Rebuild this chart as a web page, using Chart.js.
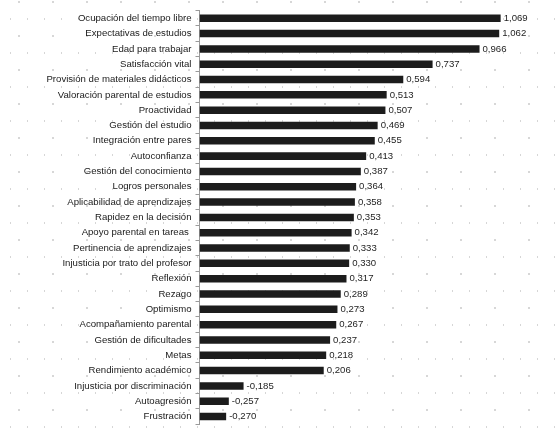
<!DOCTYPE html>
<html lang="es">

<head>
    <meta charset="UTF-8" />
    <title>Coeficientes</title>
    <style>
        body {
            margin: 0;
            background-color: #fff;
            background-image:
                radial-gradient(circle, #d6d6d6 0.7px, transparent 1.1px),
                radial-gradient(circle, #d6d6d6 0.7px, transparent 1.1px);
            background-size: 17px 34px, 34px 34px;
            background-position: 2px 2px, 2px 19px;
        }

        canvas {
            display: block;
        }
    </style>
    <script src="https://cdn.jsdelivr.net/npm/chart.js"></script>
</head>

<body>
    <canvas id="grafico" width="560" height="437"></canvas>

    <script>
        const categorias = [
            "Ocupación del tiempo libre",
            "Expectativas de estudios",
            "Edad para trabajar",
            "Satisfacción vital",
            "Provisión de materiales didácticos",
            "Valoración parental de estudios",
            "Proactividad",
            "Gestión del estudio",
            "Integración entre pares",
            "Autoconfianza",
            "Gestión del conocimiento",
            "Logros personales",
            "Aplicabilidad de aprendizajes",
            "Rapidez en la decisión",
            "Apoyo parental en tareas ",
            "Pertinencia de aprendizajes",
            "Injusticia por trato del profesor",
            "Reflexión",
            "Rezago",
            "Optimismo",
            "Acompañamiento parental",
            "Gestión de dificultades",
            "Metas",
            "Rendimiento académico",
            "Injusticia por discriminación",
            "Autoagresión",
            "Frustración"
        ];

        const valores = [
            1.069, 1.062, 0.966, 0.737, 0.594, 0.513, 0.507, 0.469, 0.455,
            0.413, 0.387, 0.364, 0.358, 0.353, 0.342, 0.333, 0.330, 0.317,
            0.289, 0.273, 0.267, 0.237, 0.218, 0.206, -0.185, -0.257, -0.270
        ];

        const ejeMin = -0.4;
        const ejeMax = 1.3;

        const fmt = v => v.toFixed(3).replace(".", ",");

        // etiquetas de valor al final de cada barra
        const etiquetas = {
            id: "etiquetas",
            afterDatasetsDraw(chart) {
                const ctx = chart.ctx;
                const meta = chart.getDatasetMeta(0);
                ctx.save();
                ctx.font = "9.6px 'Liberation Sans', Arial, sans-serif";
                ctx.fillStyle = "#1e1e1e";
                ctx.textAlign = "left";
                ctx.textBaseline = "middle";
                meta.data.forEach((bar, i) => {
                    ctx.fillText(fmt(valores[i]), bar.x + 3, bar.y);
                });
                ctx.restore();
            }
        };

        new Chart(document.getElementById("grafico"), {
            type: "bar",
            data: {
                labels: categorias,
                datasets: [{
                    data: valores,
                    base: ejeMin,
                    backgroundColor: "#1c1c1c",
                    borderWidth: 0,
                    barPercentage: 0.49,
                    categoryPercentage: 1
                }]
            },
            options: {
                indexAxis: "y",
                responsive: false,
                animation: false,
                layout: {
                    padding: { left: 10, right: 12, top: 10.6, bottom: 12.8 }
                },
                plugins: {
                    legend: { display: false },
                    tooltip: { enabled: false }
                },
                scales: {
                    x: {
                        display: false,
                        min: ejeMin,
                        max: ejeMax
                    },
                    y: {
                        afterFit: s => { s.width = 189.5; },
                        grid: {
                            drawOnChartArea: false,
                            offset: true,
                            tickLength: 4,
                            color: "#9a9a9a"
                        },
                        border: { color: "#9a9a9a" },
                        ticks: {
                            padding: 4,
                            color: "#1a1a1a",
                            autoSkip: false,
                            font: { family: "'Liberation Sans', Arial, sans-serif", size: 9.6 }
                        }
                    }
                }
            },
            plugins: [etiquetas]
        });
    </script>
</body>

</html>
